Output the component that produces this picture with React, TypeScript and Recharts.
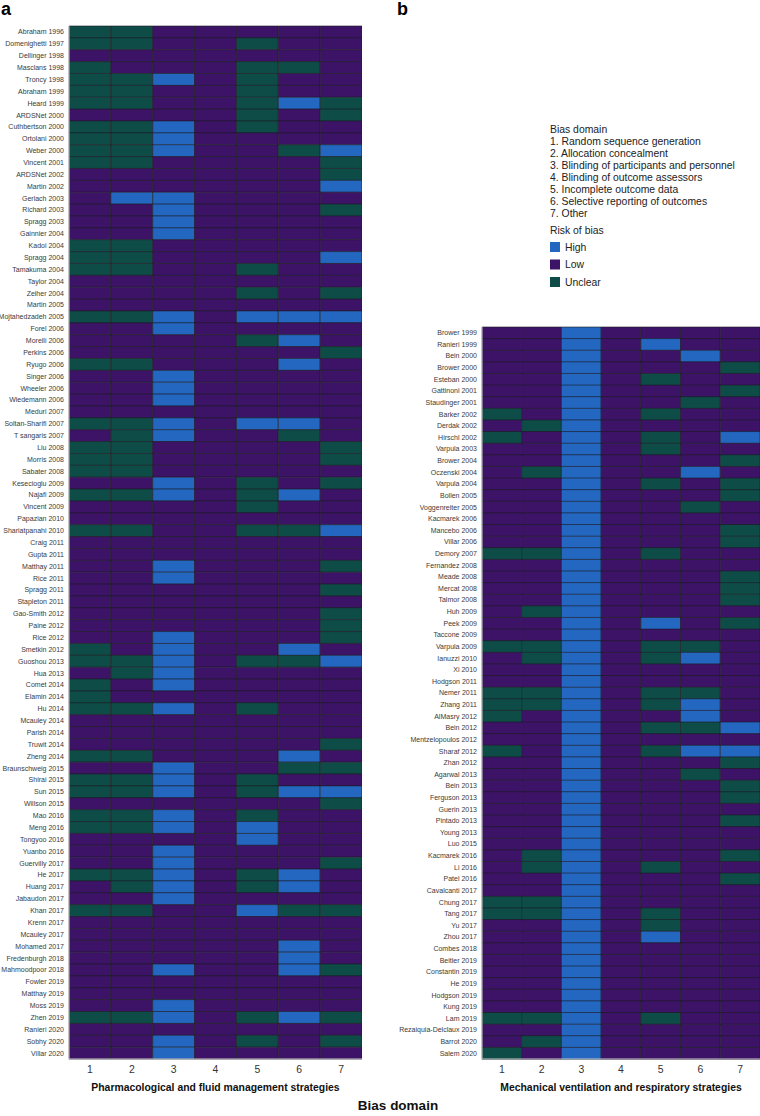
import React from "react";
import { BarChart, Bar, XAxis, YAxis, Cell } from "recharts";

// risk codes per study, one char per bias domain 1..7: H = high, L = low, U = unclear
const LEFT_STUDIES = [
  "Abraham 1996", "Domenighetti 1997", "Dellinger 1998", "Masclans 1998", "Troncy 1998",
  "Abraham 1999", "Heard 1999", "ARDSNet 2000", "Cuthbertson 2000", "Ortolani 2000",
  "Weber 2000", "Vincent 2001", "ARDSNet 2002", "Martin 2002", "Gerlach 2003",
  "Richard 2003", "Spragg 2003", "Gainnier 2004", "Kadoi 2004", "Spragg 2004",
  "Tamakuma 2004", "Taylor 2004", "Zeiher 2004", "Martin 2005", "Mojtahedzadeh 2005",
  "Forel 2006", "Morelli 2006", "Perkins 2006", "Ryugo 2006", "Singer 2006",
  "Wheeler 2006", "Wiedemann 2006", "Meduri 2007", "Soltan-Sharifi 2007", "T sangaris 2007",
  "Liu 2008", "Morris 2008", "Sabater 2008", "Kesecioglu 2009", "Najafi 2009",
  "Vincent 2009", "Papazian 2010", "Shariatpanahi 2010", "Craig 2011", "Gupta 2011",
  "Matthay 2011", "Rice 2011", "Spragg 2011", "Stapleton 2011", "Gao-Smith 2012",
  "Paine 2012", "Rice 2012", "Smetkin 2012", "Guoshou 2013", "Hua 2013",
  "Comet 2014", "Elamin 2014", "Hu 2014", "Mcauley 2014", "Parish 2014",
  "Truwit 2014", "Zheng 2014", "Braunschweig 2015", "Shirai 2015", "Sun 2015",
  "Willson 2015", "Mao 2016", "Meng 2016", "Tongyoo 2016", "Yuanbo 2016",
  "Guervilly 2017", "He 2017", "Huang 2017", "Jabaudon 2017", "Khan 2017",
  "Krenn 2017", "Mcauley 2017", "Mohamed 2017", "Fredenburgh 2018", "Mahmoodpoor 2018",
  "Fowler 2019", "Matthay 2019", "Moss 2019", "Zhen 2019", "Ranieri 2020",
  "Sobhy 2020", "Villar 2020",
];

const LEFT_RISK = [
  "UULLLLL", "UULLULL", "LLLLLLL", "ULLLUUL", "UUHLULL",
  "UULLULL", "UULLUHU", "LLLLULU", "UUHLULL", "UUHLLLL",
  "UUHLLUH", "UULLLLU", "LLLLLLU", "LLLLLLH", "LHHLLLL",
  "LLHLLLU", "LLHLLLL", "LLHLLLL", "UULLLLL", "UULLLLH",
  "UULLULL", "LLLLLLL", "LLLLULU", "LLLLLLL", "UUHLHHH",
  "LLHLLLL", "LLLLUHL", "LLLLLLU", "UULLLHL", "LLHLLLL",
  "LLHLLLL", "LLHLLLL", "LLLLLLL", "UUHLHHL", "LUHLLUL",
  "UULLLLU", "UULLLLU", "UULLLLL", "LLHLULU", "UUHLUHL",
  "LLLLULL", "LLLLLLL", "UULLUUH", "LLLLLLL", "LLLLLLL",
  "LLHLLLU", "LLHLLLL", "LLLLLLU", "LLLLLLL", "LLLLLLU",
  "LLLLLLU", "LLHLLLU", "ULHLLHL", "UUHLUUH", "LUHLLLL",
  "ULHLLLL", "ULLLLLL", "UUHLULL", "LLLLLLL", "LLLLLLL",
  "LLLLLLU", "UULLLHL", "LLHLLUU", "UUHLULL", "UUHLUHH",
  "LLLLLLU", "UUHLULL", "UUHLHLL", "LLLLHLL", "LLHLLLL",
  "LLHLLLU", "UUHLUHL", "LUHLUHL", "LLHLLLL", "UULLHUU",
  "LLLLLLL", "LLLLLLL", "LLLLLHL", "LLLLLHL", "LLHLLHU",
  "LLLLLLL", "LLLLLLL", "LLHLLLL", "UUHLUHU", "LLLLLLL",
  "LLHLULU", "LLHLLLL",
];

const RIGHT_STUDIES = [
  "Brower 1999", "Ranieri 1999", "Bein 2000", "Brower 2000", "Esteban 2000",
  "Gattinoni 2001", "Staudinger 2001", "Barker 2002", "Derdak 2002", "Hirschl 2002",
  "Varpula 2003", "Brower 2004", "Oczenski 2004", "Varpula 2004", "Bollen 2005",
  "Voggenreiter 2005", "Kacmarek 2006", "Mancebo 2006", "Villar 2006", "Demory 2007",
  "Fernandez 2008", "Meade 2008", "Mercat 2008", "Talmor 2008", "Huh 2009",
  "Peek 2009", "Taccone 2009", "Varpula 2009", "Ianuzzi 2010", "Xi 2010",
  "Hodgson 2011", "Nemer 2011", "Zhang 2011", "AlMasry 2012", "Bein 2012",
  "Mentzelopoulos 2012", "Sharaf 2012", "Zhan 2012", "Agarwal 2013", "Bein 2013",
  "Ferguson 2013", "Guerin 2013", "Pintado 2013", "Young 2013", "Luo 2015",
  "Kacmarek 2016", "Li 2016", "Patel 2016", "Cavalcanti 2017", "Chung 2017",
  "Tang 2017", "Yu 2017", "Zhou 2017", "Combes 2018", "Beitler 2019",
  "Constantin 2019", "He 2019", "Hodgson 2019", "Kung 2019", "Lam 2019",
  "Rezaiquia-Delclaux 2019", "Barrot 2020", "Salem 2020",
];

const RIGHT_RISK = [
  "LLHLLLL", "LLHLHLL", "LLHLLHL", "LLHLLLU", "LLHLULL",
  "LLHLLLU", "LLHLLUL", "ULHLULL", "LUHLLLL", "ULHLULH",
  "LLHLULL", "LLHLLLU", "LUHLLHL", "LLHLULU", "LLHLLLU",
  "LLHLLUL", "LLHLLLL", "LLHLLLU", "LLHLLLU", "UUHLULL",
  "LLHLLLL", "LLHLLLU", "LLHLLLU", "LLHLLLU", "LUHLLLL",
  "LLHLHLU", "LLHLLLL", "UUHLUUL", "LUHLUHL", "LLHLLLL",
  "LLHLLLL", "UUHLUUL", "UUHLUHL", "ULHLLHL", "LLHLUUH",
  "LLHLLLL", "ULHLUHH", "LLHLLLU", "LLHLLUL", "LLHLLLU",
  "LLHLLLU", "LLHLLLL", "LLHLLLU", "LLHLLLL", "LLHLLLL",
  "LUHLLLU", "LUHLULL", "LLHLLLU", "LLHLLLL", "UUHLLLL",
  "UUHLULL", "LLHLULL", "LLHLHLL", "LLHLLLL", "LLHLLLL",
  "LLHLLLL", "LLHLLLL", "LLHLLLL", "LLHLLLL", "UUHLULL",
  "LLHLLLL", "LUHLLLL", "ULHLLLL",
];

const DOMAIN_TICKS = ["1", "2", "3", "4", "5", "6", "7"];
const DOMAIN_NAMES = [
  "1. Random sequence generation",
  "2. Allocation concealment",
  "3. Blinding of participants and personnel",
  "4. Blinding of outcome assessors",
  "5. Incomplete outcome data",
  "6. Selective reporting of outcomes",
  "7. Other",
];
const RISK_LEVELS = ["High", "Low", "Unclear"];

const COLORS: Record<string, string> = {
  H: "#2467c0",
  L: "#3d1367",
  U: "#0e4c48",
  High: "#2467c0",
  Low: "#3d1367",
  Unclear: "#0e4c48",
};

const KEYS = DOMAIN_TICKS.map((d) => "d" + d);
const FONT = "'Liberation Sans', Arial, sans-serif";

// one-line study label (the default tick wraps long names)
function StudyTick({ x, y, payload }: any) {
  return (
    <text x={x} y={y} dy="0.35em" textAnchor="end" fontSize={7} fill="#3a3a3a">
      {payload.value}
    </text>
  );
}

type PanelProps = {
  studies: string[];
  risk: string[];
  left: number;
  width: number;
  yWidth: number;
  top: number;
  title: string;
};

function Panel({ studies, risk, left, width, yWidth, top, title }: PanelProps) {
  const data = studies.map((name) => {
    const row: any = { name };
    KEYS.forEach((k) => (row[k] = 1));
    return row;
  });

  return (
    <div style={{ position: "absolute", left, top: 0 }}>
      <BarChart
        layout="vertical"
        width={width}
        height={1116}
        data={data}
        margin={{ top, right: 0, bottom: 0, left: 0 }}
        barCategoryGap={0}
      >
        <XAxis
          type="number"
          domain={[0, 7]}
          ticks={[0.5, 1.5, 2.5, 3.5, 4.5, 5.5, 6.5]}
          tickFormatter={(v: number) => DOMAIN_TICKS[Math.floor(v)]}
          height={57}
          tickLine={false}
          tickSize={5}
          tickMargin={2}
          axisLine={{ stroke: "#cfcfcf" }}
          tick={{ fontSize: 10.4, fill: "#333" }}
          label={{
            value: title,
            position: "insideBottom",
            offset: 25,
            fontSize: 10.4,
            fontWeight: "bold",
            fill: "#111",
          }}
        />
        <YAxis
          type="category"
          dataKey="name"
          width={yWidth}
          interval={0}
          tickLine={false}
          tickSize={3}
          tickMargin={2}
          axisLine={{ stroke: "#cfcfcf" }}
          tick={<StudyTick />}
        />
        {KEYS.map((k, j) => (
          <Bar
            key={k}
            dataKey={k}
            stackId="a"
            isAnimationActive={false}
            stroke="#1c1c24"
            strokeWidth={0.6}
          >
            {data.map((_, i) => (
              <Cell key={i} fill={COLORS[risk[i][j]]} />
            ))}
          </Bar>
        ))}
      </BarChart>
    </div>
  );
}

export default function App() {
  return (
    <div
      style={{
        position: "absolute",
        left: 0,
        top: 0,
        width: 760,
        height: 1116,
        background: "#fff",
        fontFamily: FONT,
      }}
    >
      <Panel
        studies={LEFT_STUDIES}
        risk={LEFT_RISK}
        left={0}
        width={362}
        yWidth={69}
        top={26}
        title="Pharmacological and fluid management strategies"
      />
      <Panel
        studies={RIGHT_STUDIES}
        risk={RIGHT_RISK}
        left={380}
        width={380}
        yWidth={102}
        top={327}
        title="Mechanical ventilation and respiratory strategies"
      />
      <svg
        width={760}
        height={1116}
        style={{ position: "absolute", left: 0, top: 0, pointerEvents: "none" }}
      >
        <text x={1} y={15} fontSize={18} fontWeight="bold" fill="#000">
          a
        </text>
        <text x={397} y={15} fontSize={18} fontWeight="bold" fill="#000">
          b
        </text>
        <text x={550} y={132.5} fontSize={10.4} fill="#222">
          Bias domain
        </text>
        {DOMAIN_NAMES.map((d, i) => (
          <text key={d} x={550} y={144.5 + i * 12} fontSize={10.4} fill="#222">
            {d}
          </text>
        ))}
        <text x={550} y={233.5} fontSize={10.4} fill="#222">
          Risk of bias
        </text>
        {RISK_LEVELS.map((r, i) => (
          <g key={r}>
            <rect x={550} y={242 + i * 17.5} width={10} height={10} fill={COLORS[r]} />
            <text x={565} y={250.5 + i * 17.5} fontSize={10.4} fill="#222">
              {r}
            </text>
          </g>
        ))}
        <text
          x={398}
          y={1110}
          fontSize={13.5}
          fontWeight="bold"
          fill="#111"
          textAnchor="middle"
        >
          Bias domain
        </text>
      </svg>
    </div>
  );
}
